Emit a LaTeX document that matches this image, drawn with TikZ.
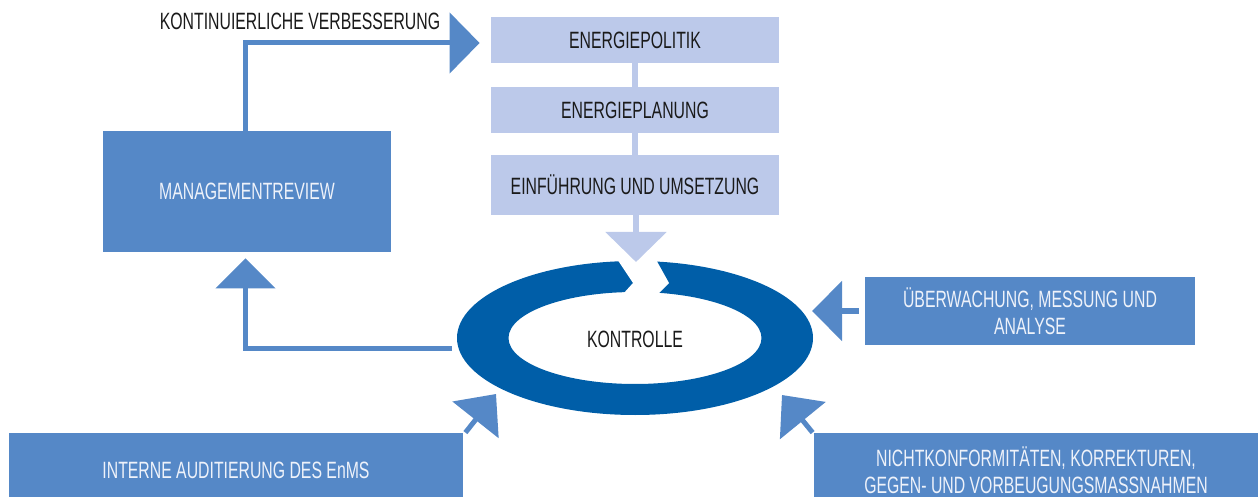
\documentclass[tikz,border=0pt]{standalone}
\usepackage{fontspec}
\setmainfont[FakeStretch=0.67]{Liberation Sans}
\usetikzlibrary{arrows.meta,shapes.geometric}
\definecolor{lightc}{HTML}{BCC9EA}
\definecolor{midc}{HTML}{5588C7}
\definecolor{ringc}{HTML}{005EA8}
\definecolor{paletxt}{HTML}{EEF2FA}
\definecolor{darktxt}{HTML}{1A1A1A}
\tikzset{
  lightbox/.style={fill=lightc, inner sep=0pt, text=darktxt, align=center},
  midbox/.style={fill=midc, inner sep=0pt, text=paletxt, align=center},
  lightconn/.style={draw=lightc, line width=3pt},
  midconn/.style={draw=midc, line width=2.5pt},
  bigtip/.style={-{Triangle[length=15pt,width=30pt]}},
  every node/.style={font=\fontsize{11.8}{13.5}\selectfont}
}
\begin{document}
\begin{tikzpicture}[x=0.5pt,y=-0.5pt]
\useasboundingbox (0,0) rectangle (1258,497);
\clip (0,0) rectangle (1258,497);

% top boxes
\node[lightbox, minimum width=144pt, minimum height=23pt] (pol) at (635,40) {ENERGIEPOLITIK};
\node[lightbox, minimum width=144pt, minimum height=23pt] (plan) at (635,110) {ENERGIEPLANUNG};
\node[lightbox, minimum width=144pt, minimum height=30pt] (ein) at (635,185) {EINFÜHRUNG UND UMSETZUNG};
\draw[lightconn] (pol.south) -- (plan.north);
\draw[lightconn] (plan.south) -- (ein.north);

% ring
\fill[ringc, even odd rule] (635,338) ellipse [x radius=89pt, y radius=38.5pt]
  (635,338) ellipse [x radius=63.25pt, y radius=23pt];
\fill[white] (615,256) -- (654,256) -- (669,283) -- (658,294) -- (623,294) -- (633,283) -- cycle;
\node[text=darktxt] (ring) at (635,339) {KONTROLLE};

% down arrow
\coordinate (downtip) at (636,262);
\draw[lightconn, bigtip] ([xshift=0.5pt]ein.south) -- (downtip);

% management review
\node[midbox, minimum width=144pt, minimum height=60.5pt] (mr) at (247,191.5) {MANAGEMENTREVIEW};
\node[text=darktxt] (kv) at (300,21) {KONTINUIERLICHE VERBESSERUNG};
\draw[midconn, bigtip] ([xshift=-0.75pt]mr.north) |- ([xshift=-5.5pt,yshift=-1.5pt]pol.west);

% ring -> management review
\coordinate (ringleft) at (452,348);
\draw[midconn, -{Triangle[length=15pt,width=29.5pt]}] (ringleft) -| ([xshift=-0.75pt,yshift=-3pt]mr.south);

% right box
\node[midbox, minimum width=165pt, minimum height=34pt] (ueb) at (1030,311) {ÜBERWACHUNG, MESSUNG UND\\ANALYSE};
\coordinate (uebtip) at (812,311);
\draw[midconn, -{Triangle[length=15pt,width=29.5pt]}, shorten <=3pt] (ueb.west) -- (uebtip);

% bottom boxes
\node[midbox, minimum width=227pt, minimum height=37pt] (ia) at (236,470) {INTERNE AUDITIERUNG DES EnMS};
\node[midbox, minimum width=222pt, minimum height=37pt] (nk) at (1036,470) {NICHTKONFORMITÄTEN, KORREKTUREN,\\GEGEN- UND VORBEUGUNGSMASSNAHMEN};
\coordinate (iatip) at (496,394);
\coordinate (nktip) at (782,395);
\draw[midconn, -{Triangle[length=16.5pt,width=29pt]}] ([xshift=1pt]ia.north east) -- (iatip);
\draw[midconn, -{Triangle[length=16.5pt,width=29pt]}] ([xshift=-0.5pt]nk.north west) -- (nktip);
\end{tikzpicture}
\end{document}
